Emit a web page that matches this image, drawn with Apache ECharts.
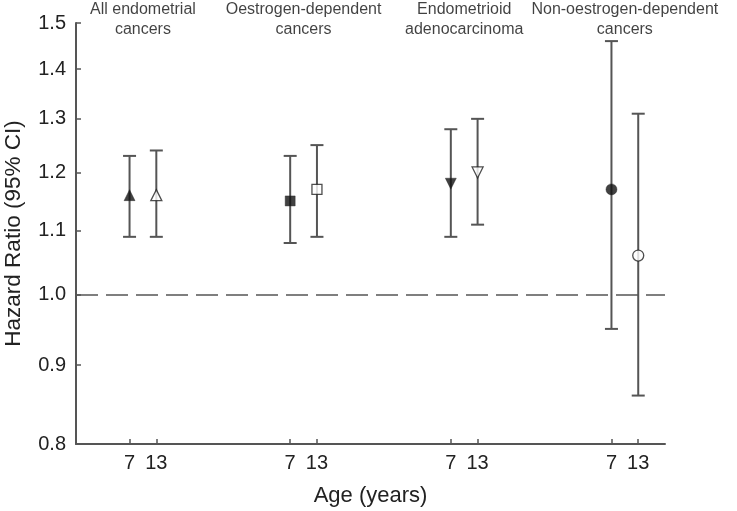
<!DOCTYPE html>
<html>
<head>
<meta charset="utf-8">
<script src="https://cdn.jsdelivr.net/npm/echarts@6/dist/echarts.min.js"></script>
<style>html,body{margin:0;padding:0;background:#fff;}#c{width:737px;height:511px;}</style>
</head>
<body>
<div id="c"></div>
<script>
const groups = ['All endometrial\ncancers', 'Oestrogen-dependent\ncancers', 'Endometrioid\nadenocarcinoma', 'Non-oestrogen-dependent\ncancers'];
const ages = [7, 13];
const hr    = [[1.16, 1.16], [1.15, 1.17], [1.18, 1.20], [1.17, 1.06]];
const lower = [[1.09, 1.09], [1.08, 1.09], [1.09, 1.11], [0.95, 0.86]];
const upper = [[1.23, 1.24], [1.23, 1.25], [1.28, 1.30], [1.46, 1.31]];
const yTicks = [0.8, 0.9, 1.0, 1.1, 1.2, 1.3, 1.4, 1.5];
const symbols = ['triangle', 'rect', 'triangle', 'circle'];
const rotations = [0, 0, 180, 0];
const refValue = 1.0;

const GROUP_STEP = 6;
const xOf = (g, a) => g * GROUP_STEP + a;
const L = Math.log;
const grey = '#555';
const font = '"Liberation Sans", Arial, sans-serif';

const barData = [], pointData = [], tickVals = [], titleData = [];
groups.forEach((name, g) => {
  ages.forEach((age, a) => {
    const x = xOf(g, a);
    tickVals.push(x);
    barData.push([x, L(lower[g][a]), L(upper[g][a])]);
    const filled = a === 0;
    pointData.push({
      value: [x, L(hr[g][a])],
      symbol: symbols[g],
      symbolRotate: rotations[g],
      symbolSize: symbols[g] === 'rect' ? 10 : 11,
      itemStyle: { color: filled ? '#111' : '#fff', borderColor: '#222', borderWidth: filled ? 0.5 : 1.3 }
    });
  });
  titleData.push({ value: [xOf(g, 0.5), L(yTicks[yTicks.length - 1])], name: name });
});

const ageOfX = {};
groups.forEach((n, g) => ages.forEach((age, a) => { ageOfX[xOf(g, a)] = age; }));

const chart = echarts.init(document.getElementById('c'), null, { renderer: 'canvas' });
chart.setOption({
  animation: false,
  backgroundColor: '#fff',
  grid: { left: 76, right: 72, top: 23, bottom: 67, outerBoundsMode: 'none', containLabel: false },
  xAxis: {
    type: 'value', min: -2, max: 20,
    name: 'Age (years)', nameLocation: 'middle', nameGap: 41,
    nameTextStyle: { fontFamily: font, fontSize: 22, color: '#222' },
    axisLine: { show: true, onZero: false, lineStyle: { color: grey, width: 2 } },
    axisTick: { show: true, inside: true, length: 5, lineStyle: { color: grey, width: 1.5 }, customValues: tickVals },
    axisLabel: { customValues: tickVals, formatter: v => String(ageOfX[Math.round(v)] ?? ''), fontFamily: font, fontSize: 20, color: '#222', margin: 9 },
    splitLine: { show: false }
  },
  yAxis: {
    type: 'value', min: L(yTicks[0]), max: L(yTicks[yTicks.length - 1]),
    name: 'Hazard Ratio (95% CI)', nameLocation: 'middle', nameGap: 51, nameRotate: 90,
    nameTextStyle: { fontFamily: font, fontSize: 22.5, color: '#222' },
    axisLine: { show: true, onZero: false, lineStyle: { color: grey, width: 2 } },
    axisTick: { show: true, inside: true, length: 5, lineStyle: { color: grey, width: 1.5 }, customValues: yTicks.map(L) },
    axisLabel: { customValues: yTicks.map(L), formatter: v => Math.exp(v).toFixed(1), fontFamily: font, fontSize: 20, color: '#222', margin: 10 },
    splitLine: { show: false }
  },
  series: [
    {
      type: 'custom', z: 3,
      renderItem: (params, api) => {
        const x = api.value(0);
        const lo = api.coord([x, api.value(1)]);
        const hi = api.coord([x, api.value(2)]);
        const w = 6.5;
        const st = { stroke: grey, lineWidth: 2, fill: null };
        return {
          type: 'group',
          children: [
            { type: 'line', shape: { x1: lo[0], y1: lo[1], x2: hi[0], y2: hi[1] }, style: st },
            { type: 'line', shape: { x1: lo[0] - w, y1: lo[1], x2: lo[0] + w, y2: lo[1] }, style: st },
            { type: 'line', shape: { x1: hi[0] - w, y1: hi[1], x2: hi[0] + w, y2: hi[1] }, style: st }
          ]
        };
      },
      data: barData,
      markLine: {
        silent: true, symbol: 'none', label: { show: false }, z: 1,
        lineStyle: { color: grey, width: 1.5, type: [22, 8] },
        emphasis: { disabled: true },
        data: [{ yAxis: L(refValue) }]
      }
    },
    {
      type: 'scatter', z: 5, data: pointData
    },
    {
      type: 'scatter', z: 6, symbolSize: 0, silent: true, data: titleData,
      label: {
        show: true, position: 'inside', offset: [0, -3], formatter: p => p.name,
        fontFamily: font, fontSize: 16, color: '#111', lineHeight: 20, align: 'center'
      }
    }
  ]
});
</script>
</body>
</html>
